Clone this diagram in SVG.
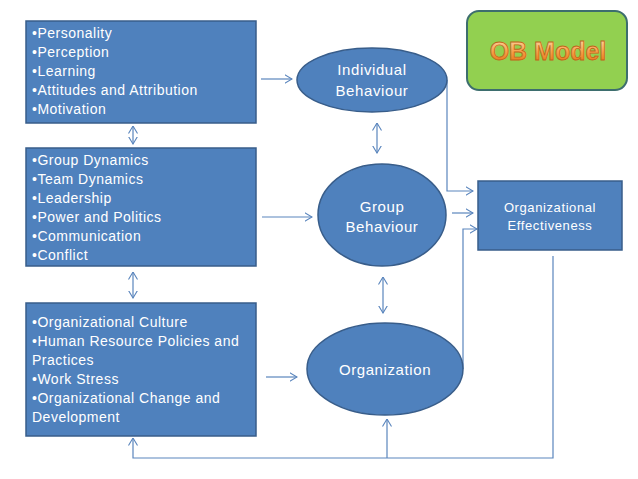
<svg xmlns="http://www.w3.org/2000/svg" width="638" height="479" viewBox="0 0 638 479">
<defs>
<style>
.node{fill:#4f81bd;stroke:#385d8a;stroke-width:1.5}
.lst{font-family:"Liberation Sans",Arial,sans-serif;font-size:14px;letter-spacing:0.5px;fill:#ffffff}
.lbl{font-family:"Liberation Sans",Arial,sans-serif;font-size:15px;letter-spacing:0.6px;fill:#ffffff;text-anchor:middle}
.lbs{font-family:"Liberation Sans",Arial,sans-serif;font-size:13px;letter-spacing:0.6px;fill:#ffffff;text-anchor:middle}
.con{fill:none;stroke:#5a85bd;stroke-width:1.2}
</style>
<marker id="ah" viewBox="0 0 8 10" refX="7.5" refY="5" markerWidth="8" markerHeight="10" markerUnits="userSpaceOnUse" orient="auto-start-reverse">
<path d="M0,0.5 L7.5,5 L0,9.5" fill="none" stroke="#5a85bd" stroke-width="1.1"/>
</marker>
<linearGradient id="og" x1="0" y1="0" x2="0" y2="1">
<stop offset="0" stop-color="#fde0b0"/>
<stop offset="0.5" stop-color="#f8a24e"/>
<stop offset="1" stop-color="#e46c0a"/>
</linearGradient>
</defs>

<g id="connectors">
<line class="con" x1="261" y1="79" x2="292" y2="79" marker-end="url(#ah)"/>
<line class="con" x1="262" y1="217" x2="312" y2="217" marker-end="url(#ah)"/>
<line class="con" x1="266" y1="377" x2="297" y2="377" marker-end="url(#ah)"/>
<line class="con" x1="377" y1="123" x2="377" y2="153" marker-start="url(#ah)" marker-end="url(#ah)"/>
<line class="con" x1="383" y1="277" x2="383" y2="313" marker-start="url(#ah)" marker-end="url(#ah)"/>
<line class="con" x1="133" y1="126" x2="133" y2="144" marker-start="url(#ah)" marker-end="url(#ah)"/>
<line class="con" x1="133" y1="272" x2="133" y2="298" marker-start="url(#ah)" marker-end="url(#ah)"/>
<polyline class="con" points="447,80 447,191 473,191" marker-end="url(#ah)"/>
<line class="con" x1="452" y1="213" x2="473" y2="213" marker-end="url(#ah)"/>
<polyline class="con" points="463,369 463,229 477,229" marker-end="url(#ah)"/>
<polyline class="con" points="553,256 553,458 133,458 133,438" marker-end="url(#ah)"/>
<line class="con" x1="387" y1="458" x2="387" y2="419" marker-end="url(#ah)"/>
</g>

<g id="box-individual-factors">
<rect class="node" x="26" y="21" width="230" height="102"/>
<text class="lst" x="32" y="38">•Personality</text>
<text class="lst" x="32" y="57">•Perception</text>
<text class="lst" x="32" y="76">•Learning</text>
<text class="lst" x="32" y="95">•Attitudes and Attribution</text>
<text class="lst" x="32" y="114">•Motivation</text>
</g>

<g id="box-group-factors">
<rect class="node" x="26" y="148" width="230" height="118"/>
<text class="lst" x="32" y="165">•Group Dynamics</text>
<text class="lst" x="32" y="184">•Team Dynamics</text>
<text class="lst" x="32" y="203">•Leadership</text>
<text class="lst" x="32" y="222">•Power and Politics</text>
<text class="lst" x="32" y="241">•Communication</text>
<text class="lst" x="32" y="260">•Conflict</text>
</g>

<g id="box-organization-factors">
<rect class="node" x="26" y="303" width="230" height="133"/>
<text class="lst" x="32" y="327">•Organizational Culture</text>
<text class="lst" x="32" y="346">•Human Resource Policies and</text>
<text class="lst" x="32" y="365">Practices</text>
<text class="lst" x="32" y="384">•Work Stress</text>
<text class="lst" x="32" y="403">•Organizational Change and</text>
<text class="lst" x="32" y="422">Development</text>
</g>

<g id="individual-behaviour">
<ellipse class="node" cx="372" cy="80" rx="75" ry="32"/>
<text class="lbl" x="372" y="75">Individual</text>
<text class="lbl" x="372" y="96">Behaviour</text>
</g>

<g id="group-behaviour">
<ellipse class="node" cx="382" cy="215" rx="64" ry="51"/>
<text class="lbl" x="382" y="212">Group</text>
<text class="lbl" x="382" y="232">Behaviour</text>
</g>

<g id="organization">
<ellipse class="node" cx="385" cy="369" rx="78" ry="46"/>
<text class="lbl" x="385" y="375">Organization</text>
</g>

<g id="organizational-effectiveness">
<rect class="node" x="478" y="181" width="144" height="69"/>
<text class="lbs" x="550" y="212">Organizational</text>
<text class="lbs" x="550" y="230">Effectiveness</text>
</g>

<g id="ob-model">
<rect x="467" y="11" width="160" height="79" rx="12" ry="12" fill="#92d050" stroke="#3d6e6e" stroke-width="2"/>
<text x="548" y="60" text-anchor="middle" font-family="'Liberation Sans',Arial,sans-serif" font-size="25" font-weight="bold" fill="url(#og)" stroke="#c0651a" stroke-width="0.8">OB Model</text>
</g>
</svg>
